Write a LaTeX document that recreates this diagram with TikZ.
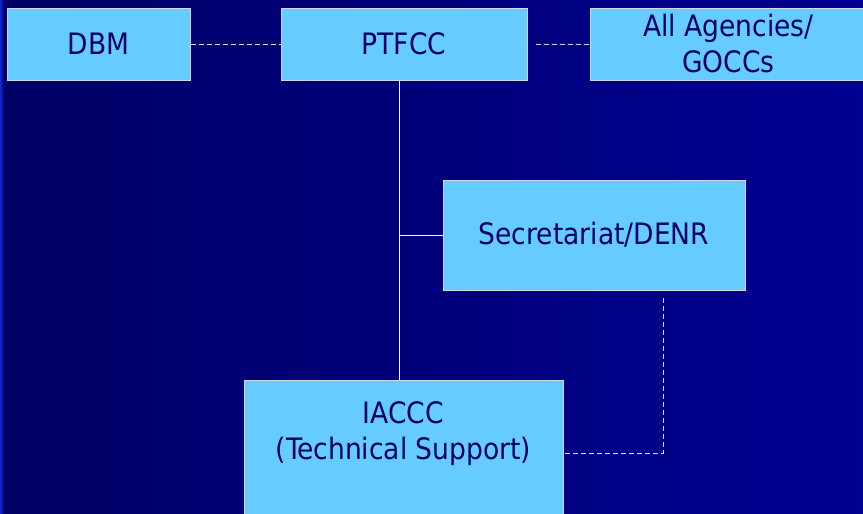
\documentclass[tikz,border=0pt]{standalone}
\usepackage{fontspec}
\setmainfont{DejaVuSansCondensed.ttf}
\usepackage{xcolor}
\usepackage{tikz}
\usetikzlibrary{positioning,calc}
\definecolor{bgleft}{RGB}{0,0,102}
\definecolor{bgright}{RGB}{0,0,145}
\definecolor{bgedge}{RGB}{20,40,210}
\definecolor{boxfill}{RGB}{102,204,255}
\definecolor{boxline}{RGB}{210,215,240}
\definecolor{boxtext}{RGB}{0,0,102}
\tikzset{
  basic/.style  = {draw=boxline, line width=1pt, fill=boxfill, rectangle,
                   text=boxtext, align=center, inner sep=0pt,
                   font=\fontsize{29.5}{36}\selectfont},
  office/.style = {basic, minimum height=72pt},
  link/.style   = {draw=white, line width=1pt},
  dashlink/.style = {draw=white!85!blue, line width=1pt, dash pattern=on 5pt off 3pt}
}

\begin{document}
\begin{tikzpicture}[x=1pt,y=-1pt]
  \useasboundingbox (0,0) rectangle (863,514);
  \clip (0,0) rectangle (863,514);
  \shade[left color=bgleft, right color=bgright] (0,0) rectangle (863,514);
  \shade[left color=bgedge, right color=bgleft] (0,0) rectangle (4,514);
  % top row
  \node[office, minimum width=183pt] (dbm)   at (98.5,44)  {DBM};
  \node[office, minimum width=246pt] (ptfcc) at (404,44)   {PTFCC};
  \node[office, minimum width=277pt] (all)   at (728.5,44) {All Agencies/\\GOCCs};
  % middle and bottom
  \node[basic, minimum width=302pt, minimum height=110pt] (secr) at (594,235) {Secretariat/DENR};
  \node[basic, minimum width=319pt, minimum height=146pt] (iaccc) at (403.5,453) {};
  \node[text=boxtext, align=center, font=\fontsize{29.5}{36}\selectfont]
       (iaccctext) at (403.5,434) {IACCC\\(Technical Support)};
  \coordinate (trunk) at (399,235);
  \coordinate (drop)  at (663,298);
  % connectors
  \draw[dashlink] (dbm) -- (ptfcc);
  \draw[dashlink] ([xshift=8pt]ptfcc.east) -- (all);
  \draw[link] (trunk |- ptfcc.south) -- (trunk |- iaccc.north);
  \draw[link] (trunk) -- (secr.west);
  \draw[dashlink] (drop) -- (drop |- iaccc.east) -- (iaccc.east);
\end{tikzpicture}
\end{document}
